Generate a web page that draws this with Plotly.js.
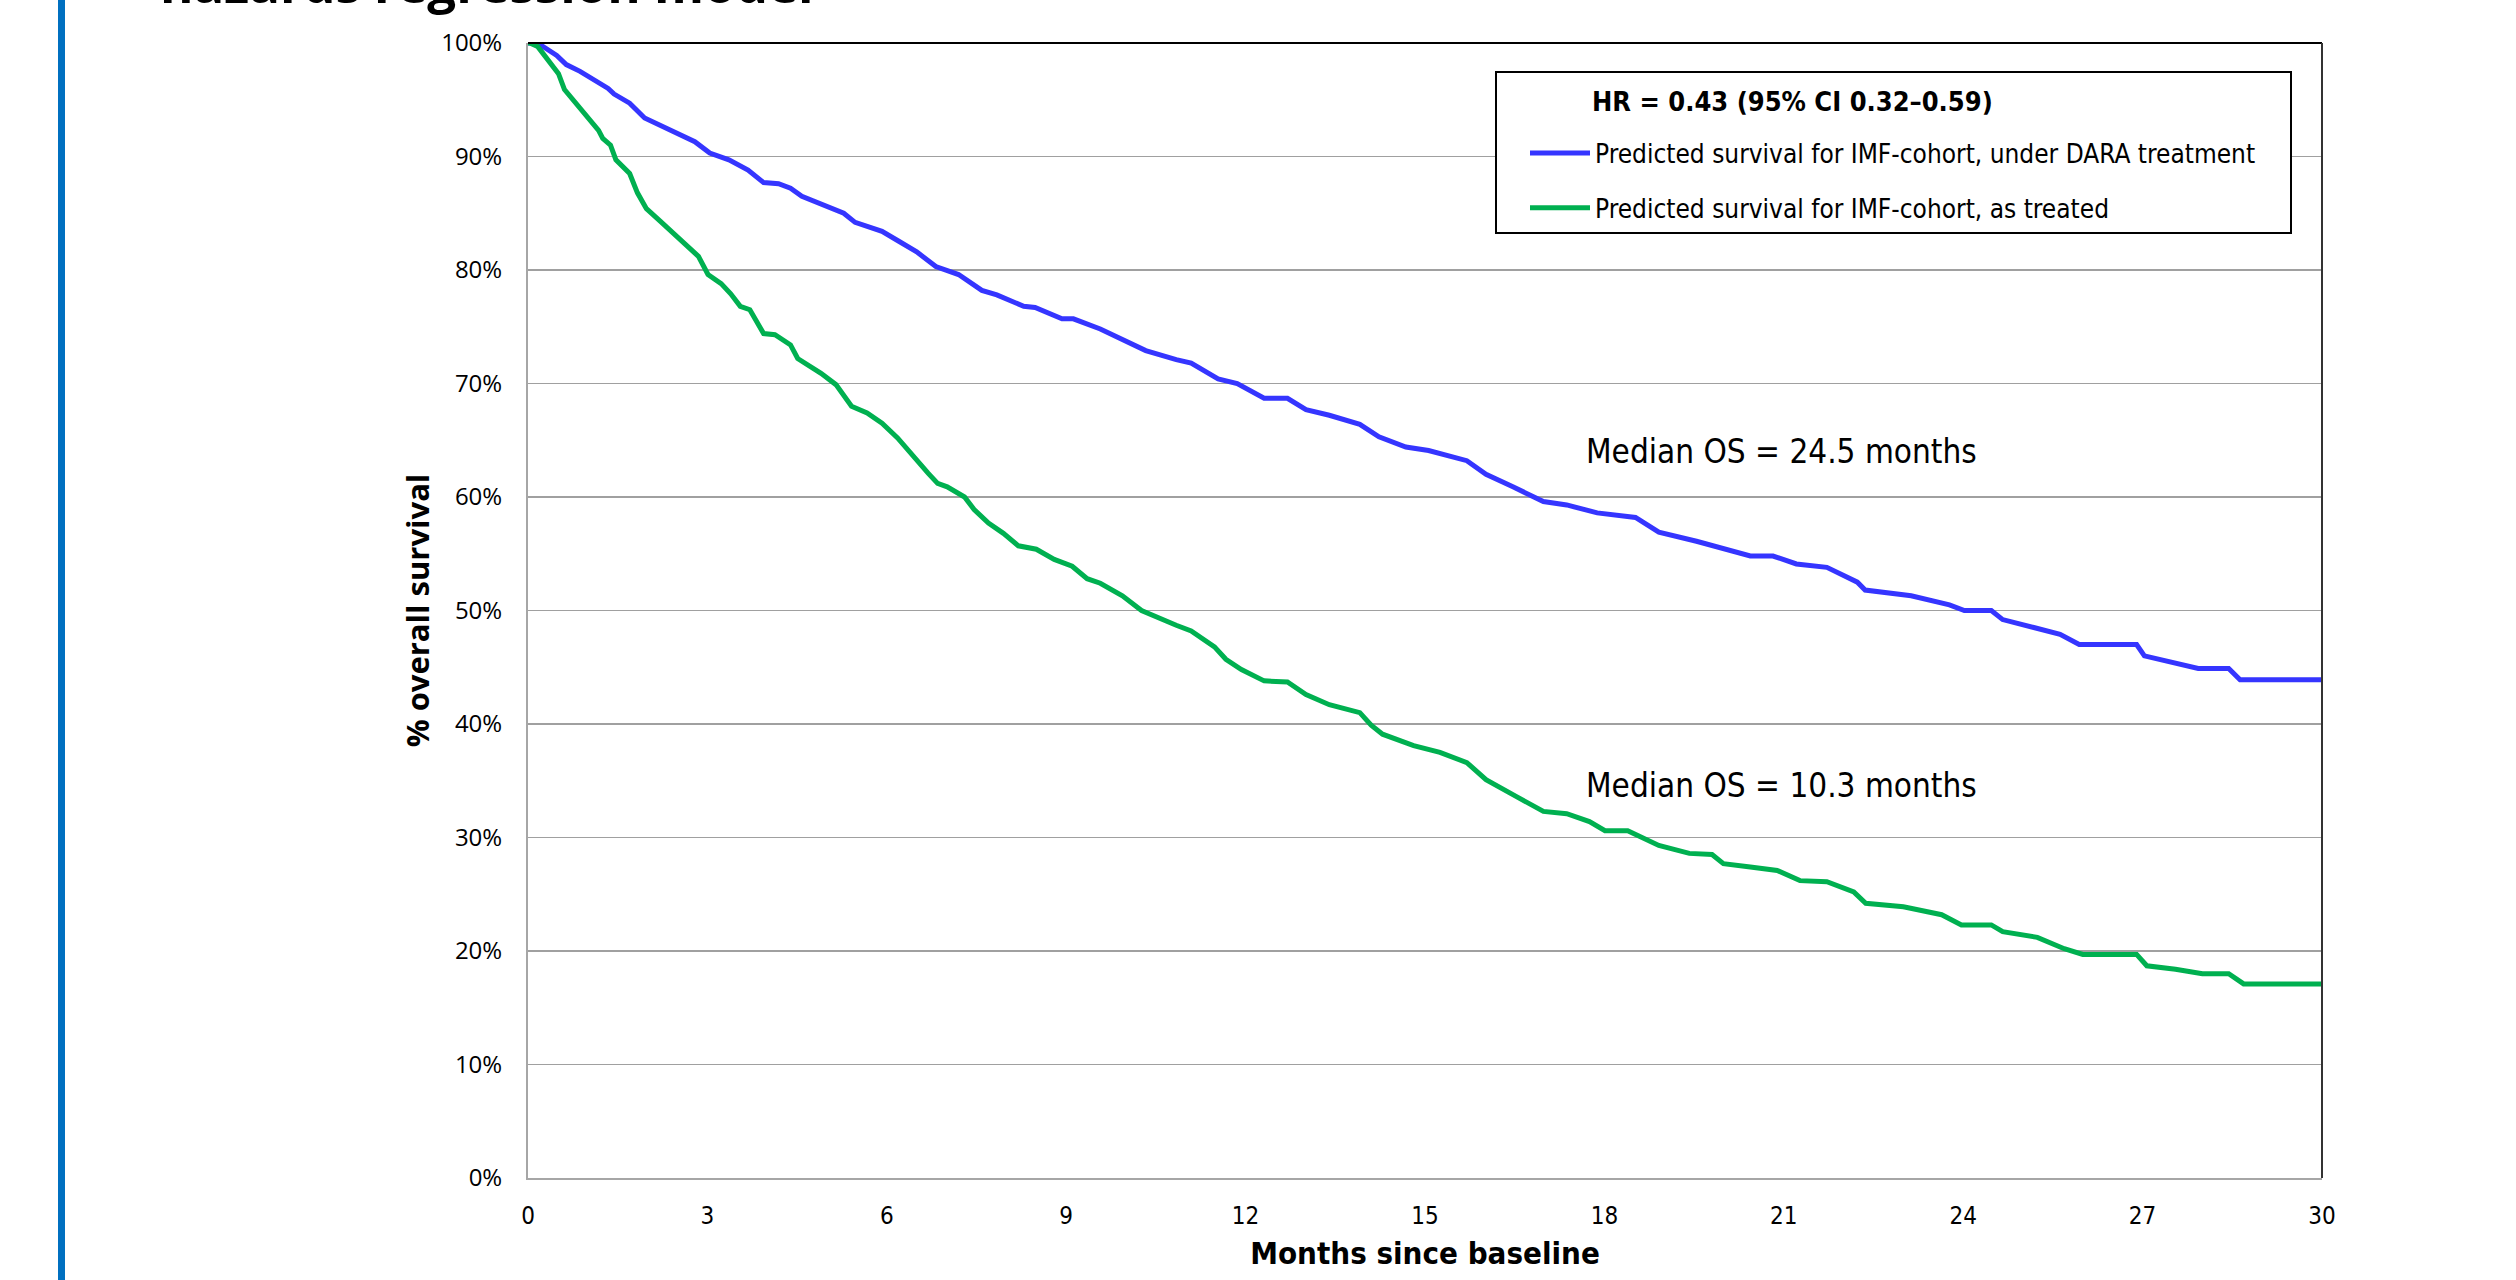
<!DOCTYPE html>
<html>
<head>
<meta charset="utf-8">
<script src="https://cdn.plot.ly/plotly-3.0.1.min.js"></script>
<style>
html,body{margin:0;padding:0;background:#fff;}
#chart{width:2516px;height:1280px;}
</style>
</head>
<body>
<div id="chart"></div>
<script>
// ---- data (months since baseline, % overall survival) ----
const monthsDara = [0,0.16,0.48,0.64,0.87,1.06,1.34,1.44,1.70,1.95,2.14,2.40,2.79,3.04,3.36,3.68,3.94,4.19,4.39,4.58,4.96,5.28,5.47,5.92,6.18,6.50,6.82,7.20,7.59,7.84,8.29,8.48,8.93,9.12,9.57,10.07,10.33,10.84,11.09,11.54,11.86,12.31,12.70,13.01,13.40,13.91,14.23,14.68,15.06,15.70,16.02,16.47,16.98,17.37,17.88,18.52,18.91,19.54,19.93,20.44,20.82,21.21,21.72,22.23,22.36,23.13,23.77,24.02,24.47,24.66,25.18,25.62,25.94,26.90,27.03,27.48,27.93,28.44,28.63,30];
const survDara = [100,100,98.9,98.1,97.5,96.9,96.0,95.5,94.7,93.4,92.9,92.3,91.3,90.3,89.7,88.8,87.7,87.6,87.2,86.5,85.7,85.0,84.2,83.4,82.6,81.6,80.3,79.6,78.2,77.8,76.8,76.7,75.7,75.7,74.8,73.5,72.9,72.1,71.8,70.4,70.0,68.7,68.7,67.7,67.2,66.4,65.3,64.4,64.1,63.2,62.0,60.9,59.6,59.3,58.6,58.2,56.9,56.1,55.5,54.8,54.8,54.1,53.8,52.5,51.8,51.3,50.5,50.0,50.0,49.2,48.5,47.9,47.0,47.0,46.0,45.5,44.9,44.9,43.9,43.9];

const monthsTreated = [0,0.03,0.16,0.35,0.51,0.61,0.80,0.90,1.18,1.25,1.38,1.47,1.70,1.83,1.98,2.21,2.37,2.46,2.72,2.85,3.01,3.23,3.39,3.55,3.71,3.94,4.13,4.39,4.51,4.64,4.90,5.15,5.41,5.67,5.92,6.18,6.43,6.69,6.85,7.01,7.30,7.46,7.70,7.95,8.20,8.50,8.80,9.10,9.35,9.57,9.94,10.26,10.84,11.09,11.48,11.67,11.93,12.31,12.70,13.01,13.40,13.91,14.10,14.29,14.81,15.25,15.70,16.02,16.53,16.98,17.37,17.75,18.01,18.39,18.91,19.42,19.80,19.99,20.44,20.89,21.27,21.72,22.17,22.37,23.00,23.64,23.97,24.47,24.66,25.24,25.69,26.00,26.90,27.07,27.55,28.00,28.44,28.69,30];
const survTreated = [100,100,99.7,98.4,97.3,95.9,94.7,93.9,92.3,91.6,91.0,89.7,88.5,86.8,85.4,84.3,83.5,83.2,81.8,81.2,79.6,78.8,77.9,76.8,76.5,74.4,74.3,73.4,72.2,71.8,70.9,69.9,68.0,67.4,66.5,65.2,63.6,62.1,61.2,60.9,60.0,58.9,57.7,56.8,55.7,55.4,54.5,53.9,52.8,52.4,51.3,50.0,48.7,48.2,46.8,45.7,44.8,43.8,43.7,42.6,41.7,41.0,39.9,39.1,38.1,37.5,36.6,35.1,33.6,32.3,32.1,31.4,30.6,30.6,29.3,28.6,28.5,27.7,27.4,27.1,26.2,26.1,25.2,24.2,23.9,23.2,22.3,22.3,21.7,21.2,20.2,19.7,19.7,18.7,18.4,18.0,18.0,17.1,17.1];

const seriesNames = ["Predicted survival for IMF-cohort, under DARA treatment", "Predicted survival for IMF-cohort, as treated"];
const legendTitle = "HR = 0.43 (95% CI 0.32\u20130.59)";
const medianLabels = ["Median OS = 24.5 months", "Median OS = 10.3 months"];
const xTickVals = [0,3,6,9,12,15,18,21,24,27,30];
const xTitle = "Months since baseline";
const yTitle = "% overall survival";
const slideTitle = "hazards regression model";

// ---- layout geometry (pixels) ----
const W = 2516, H = 1280;
const L = 528, R = 2322, T = 43, B = 1178;
const pw = R - L, ph = B - T;
const px2paperX = p => (p - L) / pw;
const px2paperY = p => (B - p) / ph;

const narrow = '"Liberation Sans Narrow", "DejaVu Sans Condensed", "Open Sans", sans-serif';
const sans = '"Open Sans", "Noto Sans", sans-serif';
const nb = '\u00a0';

const traces = [
  {x: monthsDara, y: survDara, type: 'scatter', mode: 'lines', name: seriesNames[0] + nb.repeat(4),
   line: {color: '#3535FF', width: 5}, legendgroup: 'a'},
  {x: monthsTreated, y: survTreated, type: 'scatter', mode: 'lines', name: seriesNames[1],
   line: {color: '#00B050', width: 5}, legendgroup: 'b'}
];

const layout = {
  width: W, height: H,
  margin: {l: L, r: W - R, t: T, b: H - B, pad: 0, autoexpand: false},
  paper_bgcolor: '#fff', plot_bgcolor: '#fff',
  showlegend: true,
  title: {text: '<b>' + slideTitle + '</b>', font: {family: sans, size: 51, color: '#000'},
          x: 160 / W, xanchor: 'left', xref: 'container', y: 1 - 3 / H, yanchor: 'bottom', yref: 'container'},
  xaxis: {range: [0, 30], tickvals: xTickVals, showgrid: false, zeroline: false,
          showline: true, linecolor: '#A6A6A6', linewidth: 2, ticks: '', ticklabelstandoff: 15,
          tickfont: {family: narrow, size: 24, color: '#000'},
          title: {text: '<b>' + xTitle + '</b>', font: {family: narrow, size: 31, color: '#000'}, standoff: 14}},
  yaxis: {range: [0, 100], dtick: 10, ticksuffix: '%', showgrid: true, gridcolor: '#A0A0A0', gridwidth: 1.5,
          zeroline: false, showline: true, linecolor: '#A6A6A6', linewidth: 2, ticks: '', ticklabelstandoff: 19,
          tickfont: {family: sans, size: 24, color: '#000'},
          title: {text: '<b>' + yTitle + '</b>', font: {family: sans, size: 31, color: '#000'}, standoff: 2}},
  legend: {x: px2paperX(1495), y: px2paperY(71), xanchor: 'left', yanchor: 'top',
           bgcolor: '#fff', bordercolor: '#000', borderwidth: 2,
           font: {family: narrow, size: 26, color: '#000'},
           title: {text: nb + '<br><span style="font-size:27px"><b>' + nb.repeat(11) + legendTitle + '</b></span><br>' + nb, side: 'top',
                   font: {family: narrow, size: 14.5, color: '#000'}},
           tracegroupgap: 18, itemwidth: 60, indentation: 28, traceorder: 'grouped'},
  annotations: [
    {x: 17.66, y: 64.0, xref: 'x', yref: 'y', text: medianLabels[0], showarrow: false,
     xanchor: 'left', yanchor: 'middle', font: {family: narrow, size: 33, color: '#000'}},
    {x: 17.66, y: 34.6, xref: 'x', yref: 'y', text: medianLabels[1], showarrow: false,
     xanchor: 'left', yanchor: 'middle', font: {family: narrow, size: 33, color: '#000'}}
  ],
  shapes: [
    {type: 'line', xref: 'paper', yref: 'paper', x0: 0, x1: 1, y0: 1, y1: 1, line: {color: '#000', width: 2}, layer: 'above'},
    {type: 'line', xref: 'paper', yref: 'paper', x0: 1, x1: 1, y0: 0, y1: 1, line: {color: '#333', width: 2}, layer: 'above'},
    {type: 'rect', xref: 'paper', yref: 'paper', x0: px2paperX(58), x1: px2paperX(65), y0: px2paperY(H), y1: px2paperY(0),
     line: {width: 0}, fillcolor: '#0070C0', layer: 'above'}
  ]
};

Plotly.newPlot('chart', traces, layout, {displayModeBar: false, staticPlot: true});
</script>
</body>
</html>
